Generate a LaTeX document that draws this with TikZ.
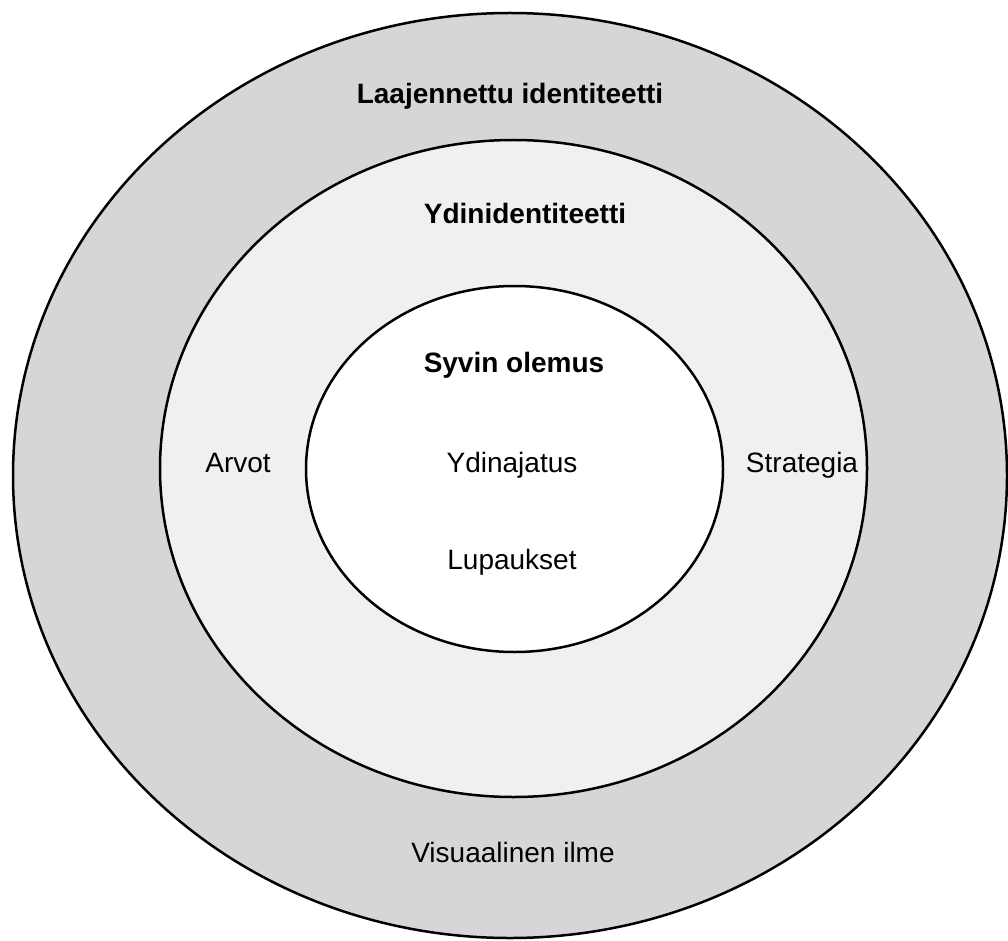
\documentclass[tikz,border=0pt]{standalone}
\usepackage{fontspec}
\setmainfont{Liberation Sans}
\definecolor{outerg}{HTML}{D6D6D6}
\definecolor{midg}{HTML}{F0F0F0}
\begin{document}
\begin{tikzpicture}[x=1pt,y=-1pt,
  ring/.style={draw=black,line width=2.5pt},
  lbl/.style={font=\fontsize{28}{32}\selectfont,inner sep=0pt,text height=20pt,text depth=6pt},
  blbl/.style={lbl,font=\fontsize{28}{32}\selectfont\bfseries}]
\useasboundingbox (0,0) rectangle (1008,941);
\fill[white] (0,0) rectangle (1008,941);
\draw[ring,fill=outerg] (510,475.5) ellipse [x radius=497,y radius=462.5];
\draw[ring,fill=midg] (513.5,468.5) ellipse [x radius=353.5,y radius=328.5];
\draw[ring,fill=white] (514.5,469) ellipse [x radius=208.5,y radius=183];
\node[blbl] (ext) at (510,97) {Laajennettu identiteetti};
\node[blbl] (core) at (525,217) {Ydinidentiteetti};
\node[blbl] (deep) at (514,365) {Syvin olemus};
\node[lbl] (values) at (238,465) {Arvot};
\node[lbl] (idea) at (512,465) {Ydinajatus};
\node[lbl] (strat) at (802,465) {Strategia};
\node[lbl] (prom) at (512,562) {Lupaukset};
\node[lbl] (visual) at (513,855) {Visuaalinen ilme};
\end{tikzpicture}
\end{document}
